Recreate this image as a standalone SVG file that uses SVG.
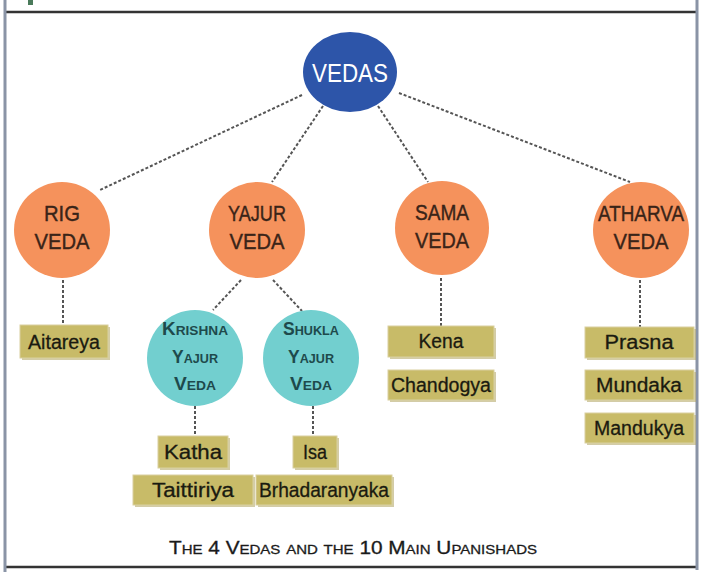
<svg xmlns="http://www.w3.org/2000/svg" width="720" height="572" viewBox="0 0 720 572">
<defs>
<style>
.frame{stroke:#333;stroke-width:2.5;fill:none}
.side{stroke:#8a94a6;stroke-width:3;fill:none}
.conn{stroke:#555;stroke-width:2;stroke-dasharray:3 2;fill:none}
.veda{fill:#f5925c}
.sub{fill:#72cfcf}
.box{fill:#c8bb68;stroke:#d9d0a0;stroke-width:1}
.shadow{fill:#a89a50;opacity:0.5}
.vt{font-family:"Liberation Sans Narrow","Liberation Sans",Arial,sans-serif;font-size:22px;fill:#3a2418;text-anchor:middle;stroke:#3a2418;stroke-width:0.4}
.st{font-family:"Liberation Sans Narrow","Liberation Sans",Arial,sans-serif;font-size:18px;fill:#1e4a4c;text-anchor:middle;font-variant:small-caps;font-weight:bold}
.bt{font-family:"Liberation Sans Narrow","Liberation Sans",Arial,sans-serif;font-size:20px;fill:#1a1a10;text-anchor:middle;stroke:#1a1a10;stroke-width:0.3}
</style>
</defs>
<rect width="720" height="572" fill="#ffffff"/>
<rect x="28" y="0" width="5" height="5" fill="#4a7a5a"/>
<line class="frame" x1="5" y1="12" x2="698" y2="12"/>
<line class="frame" x1="5" y1="567" x2="698" y2="567"/>
<line class="side" x1="5" y1="0" x2="5" y2="572"/>
<line class="side" x1="697" y1="0" x2="697" y2="570"/>

<g id="connectors">
<line class="conn" x1="302" y1="95" x2="100" y2="190"/>
<line class="conn" x1="323" y1="106" x2="272" y2="182"/>
<line class="conn" x1="378" y1="106" x2="428" y2="182"/>
<line class="conn" x1="399" y1="93" x2="630" y2="182"/>
<line class="conn" x1="63" y1="280" x2="63" y2="325"/>
<line class="conn" x1="441" y1="278" x2="441" y2="326"/>
<line class="conn" x1="640" y1="280" x2="640" y2="327"/>
<line class="conn" x1="241" y1="280" x2="213" y2="310"/>
<line class="conn" x1="273" y1="280" x2="302" y2="311"/>
<line class="conn" x1="195" y1="406" x2="195" y2="436"/>
<line class="conn" x1="313" y1="406" x2="313" y2="436"/>
</g>

<g id="vedas">
<ellipse cx="350" cy="72" rx="47" ry="40" fill="#2d55a9"/>
<text x="350" y="82" font-family="'Liberation Sans Narrow','Liberation Sans',Arial,sans-serif" font-size="26" fill="#ffffff" text-anchor="middle" textLength="76" lengthAdjust="spacingAndGlyphs">VEDAS</text>
</g>

<g id="rig-veda">
<circle class="veda" cx="62" cy="230" r="48"/>
<text class="vt" x="62" y="221" textLength="36" lengthAdjust="spacingAndGlyphs">RIG</text>
<text class="vt" x="62" y="249" textLength="55" lengthAdjust="spacingAndGlyphs">VEDA</text>
</g>
<g id="yajur-veda">
<circle class="veda" cx="257" cy="230" r="48"/>
<text class="vt" x="257" y="221" textLength="58" lengthAdjust="spacingAndGlyphs">YAJUR</text>
<text class="vt" x="257" y="249" textLength="55" lengthAdjust="spacingAndGlyphs">VEDA</text>
</g>
<g id="sama-veda">
<circle class="veda" cx="442" cy="228" r="47"/>
<text class="vt" x="442" y="220" textLength="54" lengthAdjust="spacingAndGlyphs">SAMA</text>
<text class="vt" x="442" y="248" textLength="54" lengthAdjust="spacingAndGlyphs">VEDA</text>
</g>
<g id="atharva-veda">
<circle class="veda" cx="641" cy="230" r="48"/>
<text class="vt" x="641" y="221" textLength="86" lengthAdjust="spacingAndGlyphs">ATHARVA</text>
<text class="vt" x="641" y="249" textLength="55" lengthAdjust="spacingAndGlyphs">VEDA</text>
</g>

<g id="krishna-yajur-veda">
<circle class="sub" cx="195" cy="358" r="48"/>
<text class="st" x="195" y="335" textLength="66" lengthAdjust="spacingAndGlyphs">Krishna</text>
<text class="st" x="195" y="363" textLength="46" lengthAdjust="spacingAndGlyphs">Yajur</text>
<text class="st" x="195" y="390" textLength="42" lengthAdjust="spacingAndGlyphs">Veda</text>
</g>
<g id="shukla-yajur-veda">
<circle class="sub" cx="311" cy="358" r="48"/>
<text class="st" x="311" y="335" textLength="56" lengthAdjust="spacingAndGlyphs">Shukla</text>
<text class="st" x="311" y="363" textLength="46" lengthAdjust="spacingAndGlyphs">Yajur</text>
<text class="st" x="311" y="390" textLength="42" lengthAdjust="spacingAndGlyphs">Veda</text>
</g>

<g id="aitareya">
<rect class="shadow" x="22" y="327" width="88" height="33"/>
<rect class="box" x="20" y="325" width="88" height="33"/>
<text class="bt" x="64" y="349" textLength="72" lengthAdjust="spacingAndGlyphs">Aitareya</text>
</g>
<g id="kena">
<rect class="shadow" x="390" y="328" width="106" height="31"/>
<rect class="box" x="388" y="326" width="106" height="31"/>
<text class="bt" x="441" y="348" textLength="45" lengthAdjust="spacingAndGlyphs">Kena</text>
</g>
<g id="chandogya">
<rect class="shadow" x="390" y="372" width="106" height="30"/>
<rect class="box" x="388" y="370" width="106" height="30"/>
<text class="bt" x="441" y="392" textLength="100" lengthAdjust="spacingAndGlyphs">Chandogya</text>
</g>
<g id="prasna">
<rect class="shadow" x="587" y="329" width="109" height="31"/>
<rect class="box" x="585" y="327" width="109" height="31"/>
<text class="bt" x="639" y="349" textLength="69" lengthAdjust="spacingAndGlyphs">Prasna</text>
</g>
<g id="mundaka">
<rect class="shadow" x="587" y="372" width="109" height="30"/>
<rect class="box" x="585" y="370" width="109" height="30"/>
<text class="bt" x="639" y="392" textLength="86" lengthAdjust="spacingAndGlyphs">Mundaka</text>
</g>
<g id="mandukya">
<rect class="shadow" x="587" y="415" width="109" height="30"/>
<rect class="box" x="585" y="413" width="109" height="30"/>
<text class="bt" x="639" y="435" textLength="90" lengthAdjust="spacingAndGlyphs">Mandukya</text>
</g>
<g id="katha">
<rect class="shadow" x="160" y="438" width="70" height="32"/>
<rect class="box" x="158" y="436" width="70" height="32"/>
<text class="bt" x="193" y="459" textLength="58" lengthAdjust="spacingAndGlyphs">Katha</text>
</g>
<g id="isa">
<rect class="shadow" x="295" y="438" width="44" height="32"/>
<rect class="box" x="293" y="436" width="44" height="32"/>
<text class="bt" x="315" y="459" textLength="24" lengthAdjust="spacingAndGlyphs">Isa</text>
</g>
<g id="taittiriya">
<rect class="shadow" x="135" y="477" width="120" height="30"/>
<rect class="box" x="133" y="475" width="120" height="30"/>
<text class="bt" x="193" y="497" textLength="82" lengthAdjust="spacingAndGlyphs">Taittiriya</text>
</g>
<g id="brhadaranyaka">
<rect class="shadow" x="258" y="477" width="136" height="30"/>
<rect class="box" x="256" y="475" width="136" height="30"/>
<text class="bt" x="324" y="497" textLength="130" lengthAdjust="spacingAndGlyphs">Brhadaranyaka</text>
</g>

<text x="353" y="554" font-family="'Liberation Sans Narrow','Liberation Sans',Arial,sans-serif" font-size="18" font-variant="small-caps" fill="#1a1a1a" stroke="#1a1a1a" stroke-width="0.3" text-anchor="middle" textLength="368" lengthAdjust="spacingAndGlyphs">The 4 Vedas and the 10 Main Upanishads</text>
</svg>
